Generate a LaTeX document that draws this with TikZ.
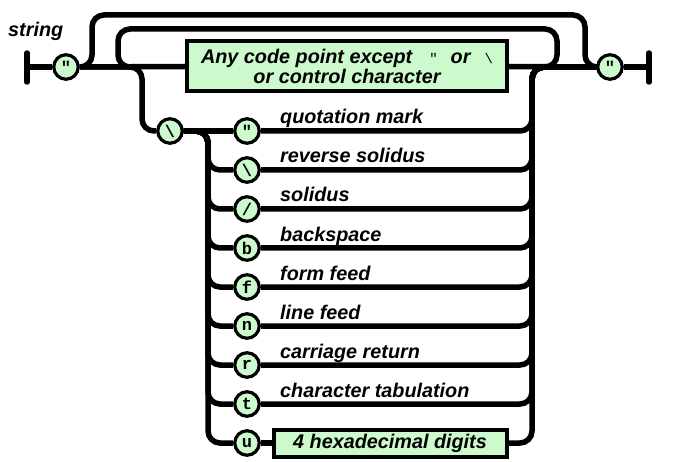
\documentclass[tikz,border=0pt]{standalone}
\usepackage{fontspec}
\setmainfont{Liberation Sans}
\newfontfamily\cmono{Liberation Mono}
\definecolor{boxgreen}{RGB}{204,250,204}
\begin{document}
\begin{tikzpicture}[x=1pt,y=-1pt,
  rail/.style={line width=5.5pt},
  railc/.style={line width=5.5pt, rounded corners=12pt},
  endbar/.style={line width=5.5pt, line cap=round},
  term/.style={circle, draw, line width=3.2pt, fill=boxgreen, minimum size=24.5pt, inner sep=0pt,
    font=\cmono\bfseries\fontsize{17}{17}\selectfont},
  nonterm/.style={rectangle, draw, line width=4pt, fill=boxgreen, inner sep=0pt, align=center,
    font=\bfseries\itshape\fontsize{19.8}{20}\selectfont},
  lbl/.style={anchor=base west, inner sep=0pt, font=\bfseries\itshape\fontsize{19.8}{20}\selectfont}]
\useasboundingbox (0,0) rectangle (674,462);

% title
\node[lbl] (title) at (8,37) {string};

% end bars
\coordinate (sbT) at (27,53); \coordinate (sbB) at (27,82); \coordinate (sb) at (27,67);
\coordinate (ebT) at (649,53); \coordinate (ebB) at (649,82); \coordinate (eb) at (649,67);

% main nodes
\node[term] (q1) at (66,67) {"};
\node[term] (q2) at (610,67) {"};
\node[nonterm, minimum width=320pt, minimum height=50pt] (any) at (347,66.5)
  {Any code point except\hspace{17pt}{\cmono\mdseries\upshape\fontsize{14}{14}\selectfont"}\hspace{13pt}or\hspace{14pt}{\cmono\mdseries\upshape\fontsize{14}{14}\selectfont\textbackslash}\\or control character};
\node[term] (bs) at (170,131) {\textbackslash};

% escape rows
\node[term] (e1) at (247,131) {"};
\node[term] (e2) at (247,170) {\textbackslash};
\node[term] (e3) at (247,209) {/};
\node[term] (e4) at (247,248) {b};
\node[term] (e5) at (247,287) {f};
\node[term] (e6) at (247,326) {n};
\node[term] (e7) at (247,365) {r};
\node[term] (e8) at (247,404) {t};
\node[term] (e9) at (247,443) {u};
\node[nonterm, minimum width=233pt, minimum height=27pt] (hex) at (390,443) {4 hexadecimal digits};

% labels
\node[lbl] (l1) at (280,124) {quotation mark};
\node[lbl] (l2) at (280,163) {reverse solidus};
\node[lbl] (l3) at (280,202) {solidus};
\node[lbl] (l4) at (280,241) {backspace};
\node[lbl] (l5) at (280,280) {form feed};
\node[lbl] (l6) at (280,319) {line feed};
\node[lbl] (l7) at (280,358) {carriage return};
\node[lbl] (l8) at (280,397) {character tabulation};

% loop joints on the main line
\coordinate (jL) at (132,67);
\coordinate (jR) at (543,67);

% bars and main line
\draw[endbar] (sbT) -- (sbB);
\draw[endbar] (ebT) -- (ebB);
\draw[rail] (sb) -- (q1.west);
\draw[rail] (q1.east) -- (any.west);
\draw[rail] (any.east) -- (q2.west);
\draw[rail] (q2.east) -- (eb);

% outer bypass and inner repeat loop
\draw[railc] (q1.east) -| (92,15) -| (585,67) -- (q2.west);
\draw[railc] (jL) -| (118,29) -| (557,67) -- (jR);

% escape branch
\draw[railc] (q1.east) -| (142,131) -- (bs.west);
\draw[rail] (bs.east) -- (e1.west);
\draw[railc] (bs.east) -| (208,170) -- (e2.west);
\draw[railc] (bs.east) -| (208,209) -- (e3.west);
\draw[railc] (bs.east) -| (208,248) -- (e4.west);
\draw[railc] (bs.east) -| (208,287) -- (e5.west);
\draw[railc] (bs.east) -| (208,326) -- (e6.west);
\draw[railc] (bs.east) -| (208,365) -- (e7.west);
\draw[railc] (bs.east) -| (208,404) -- (e8.west);
\draw[railc] (bs.east) -| (208,443) -- (e9.west);
\draw[rail] (e9.east) -- (hex.west);

% right-hand collector
\draw[railc] (e1.east) -| (532,67) -- (q2.west);
\draw[railc] (e2.east) -| (532,67) -- (q2.west);
\draw[railc] (e3.east) -| (532,67) -- (q2.west);
\draw[railc] (e4.east) -| (532,67) -- (q2.west);
\draw[railc] (e5.east) -| (532,67) -- (q2.west);
\draw[railc] (e6.east) -| (532,67) -- (q2.west);
\draw[railc] (e7.east) -| (532,67) -- (q2.west);
\draw[railc] (e8.east) -| (532,67) -- (q2.west);
\draw[railc] (hex.east) -| (532,67) -- (q2.west);
\end{tikzpicture}
\end{document}
